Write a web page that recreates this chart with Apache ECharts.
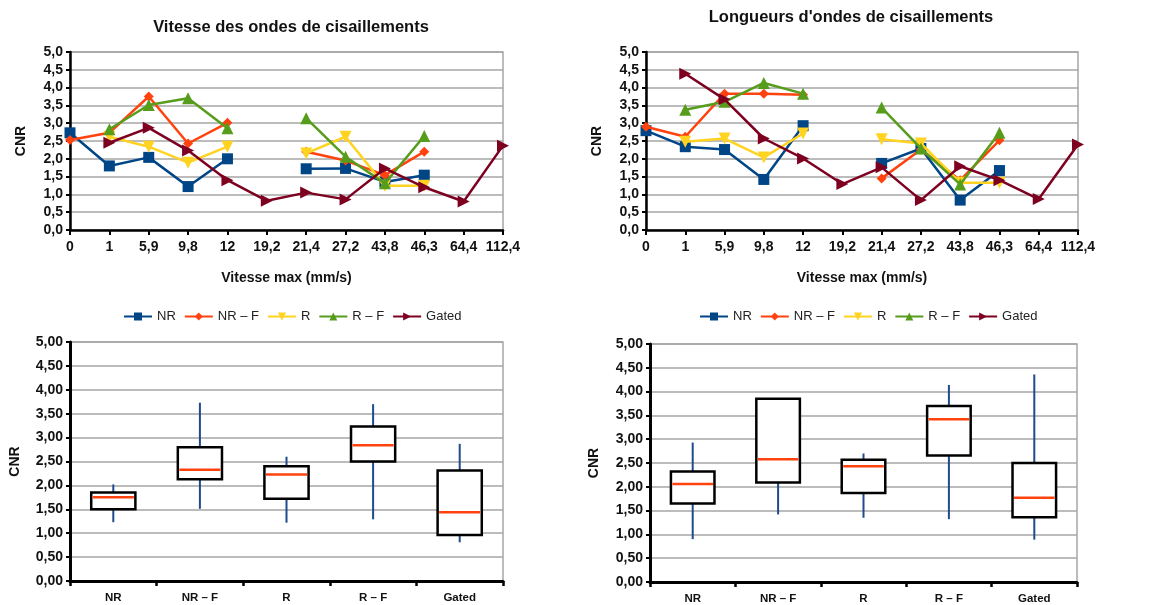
<!DOCTYPE html>
<html><head><meta charset="utf-8">
<script src="https://cdn.jsdelivr.net/npm/echarts@6/dist/echarts.min.js"></script>
<style>html,body{margin:0;padding:0;background:#fff}#c{width:1161px;height:605px}</style>
</head><body><div id="c"></div>
<script>
// ---- data ----
const speedCats = ['0','1','5,9','9,8','12','19,2','21,4','27,2','43,8','46,3','64,4','112,4'];
const seriesNames = ['NR','NR – F','R','R – F','Gated'];
// Vitesse des ondes de cisaillements
const vitNR    = [2.73,1.80,2.04,1.22,2.00,null,1.72,1.73,1.35,1.54,null,null];
const vitNRF   = [2.53,2.73,3.75,2.43,3.01,null,2.20,1.95,1.54,2.20,null,null];
const vitR     = [null,2.62,2.34,1.89,2.34,null,2.15,2.62,1.24,1.24,null,null];
const vitRF    = [null,2.83,3.51,3.70,2.86,null,3.14,2.06,1.31,2.64,null,null];
const vitGated = [null,2.45,2.87,2.23,1.40,0.82,1.05,0.86,1.73,1.20,0.80,2.37];
// Longueurs d'ondes de cisaillements
const lonNR    = [2.79,2.34,2.26,1.42,2.93,null,1.87,2.29,0.84,1.67,null,null];
const lonNRF   = [2.90,2.62,3.83,3.83,3.80,null,1.45,2.26,1.40,2.52,null,null];
const lonR     = [null,2.48,2.57,2.04,2.71,null,2.55,2.43,1.33,1.33,null,null];
const lonRF    = [null,3.38,3.60,4.13,3.83,null,3.44,2.29,1.28,2.73,null,null];
const lonGated = [null,4.39,3.67,2.57,2.01,1.29,1.76,0.84,1.79,1.40,0.87,2.40];
// Box plots: [min, Q1, median, Q3, max]
const boxCats = ['NR','NR – F','R','R – F','Gated'];
const vitBoxNR    = [1.23,1.50,1.75,1.85,2.02];
const vitBoxNRF   = [1.51,2.13,2.33,2.80,3.73];
const vitBoxR     = [1.22,1.72,2.23,2.40,2.60];
const vitBoxRF    = [1.29,2.50,2.84,3.23,3.70];
const vitBoxGated = [0.81,0.96,1.44,2.31,2.87];
const lonBoxNR    = [0.90,1.65,2.06,2.32,2.93];
const lonBoxNRF   = [1.42,2.09,2.58,3.85,3.85];
const lonBoxR     = [1.35,1.87,2.43,2.57,2.70];
const lonBoxRF    = [1.32,2.66,3.42,3.70,4.14];
const lonBoxGated = [0.89,1.36,1.77,2.50,4.36];

// ---- styles ----
const colors = ['#004586','#ff420e','#ffd320','#579d1c','#7e0021'];
const symbols = ['rect','diamond','triangle','triangle','triangle'];
const symRot = [0,0,180,0,-90];
const symSize = [11,10,12,12,12];
const FONT = 'Liberation Sans, Arial, sans-serif';

const chart = echarts.init(document.getElementById('c'));

function lineY(gi, nameGap){
  return {gridIndex: gi, min: 0, max: 5, interval: 0.5, name: 'CNR', nameLocation: 'middle', nameGap: nameGap,
    nameTextStyle: {fontFamily: FONT, fontWeight: 'bold', fontSize: 14, color: '#111'},
    axisLine: {show: true, lineStyle: {color: '#000', width: 2.5}},
    axisTick: {show: true, length: 4, lineStyle: {color: '#000', width: 2}},
    axisLabel: {fontFamily: FONT, fontWeight: 'bold', fontSize: 14, color: '#111', margin: 7,
      formatter: v => v.toFixed(1).replace('.', ',')},
    splitLine: {show: true, lineStyle: {color: '#a6a6a6', width: 1.5}}};
}
function boxY(gi, nameGap){
  const y = lineY(gi, nameGap);
  y.axisLabel = Object.assign({}, y.axisLabel, {formatter: v => v.toFixed(2).replace('.', ',')});
  y.axisLine.lineStyle.width = 3;
  return y;
}
function lineX(gi){
  return {gridIndex: gi, type: 'category', data: speedCats, boundaryGap: false,
    name: 'Vitesse max (mm/s)', nameLocation: 'middle', nameGap: 41,
    nameTextStyle: {fontFamily: FONT, fontWeight: 'bold', fontSize: 14, color: '#111'},
    axisLine: {lineStyle: {color: '#000', width: 2.5}},
    axisTick: {show: true, length: 5, lineStyle: {color: '#000', width: 2}},
    axisLabel: {fontFamily: FONT, fontWeight: 'bold', fontSize: 14, color: '#111', margin: 10, interval: 0},
    splitLine: {show: false}};
}
function boxX(gi){
  return {gridIndex: gi, type: 'category', data: boxCats, boundaryGap: true,
    axisLine: {lineStyle: {color: '#000', width: 3}},
    axisTick: {show: true, length: 5, lineStyle: {color: '#000', width: 2.5}},
    axisLabel: {fontFamily: FONT, fontWeight: 'bold', fontSize: 11.5, color: '#111', margin: 11, interval: 0},
    splitLine: {show: false}};
}
function lineSeries(gi, arrs){
  return arrs.map((d, i) => ({
    name: seriesNames[i], type: 'line', xAxisIndex: gi, yAxisIndex: gi, data: d,
    connectNulls: false, symbol: symbols[i], symbolRotate: symRot[i], symbolSize: symSize[i],
    showAllSymbol: true, itemStyle: {color: colors[i]}, lineStyle: {color: colors[i], width: 2.5},
    z: 3 + i
  }));
}
function boxSeries(gi, stats){
  return {
    type: 'custom', xAxisIndex: gi, yAxisIndex: gi, z: 10,
    data: stats.map((s, i) => [i].concat(s)),
    encode: {x: 0, y: [1,2,3,4,5]},
    renderItem: function(params, api){
      const x = api.value(0);
      const pMin = api.coord([x, api.value(1)]);
      const pQ1 = api.coord([x, api.value(2)]);
      const pMed = api.coord([x, api.value(3)]);
      const pQ3 = api.coord([x, api.value(4)]);
      const pMax = api.coord([x, api.value(5)]);
      const bw = api.size([1, 0])[0] * 0.51;
      const cx = pMed[0];
      return {type: 'group', children: [
        {type: 'line', shape: {x1: cx, y1: pMin[1], x2: cx, y2: pMax[1]}, style: {stroke: '#1f4b8a', lineWidth: 2}},
        {type: 'rect', shape: {x: cx - bw/2, y: pQ3[1], width: bw, height: pQ1[1] - pQ3[1]},
          style: {fill: '#fff', stroke: '#000', lineWidth: 2.5}},
        {type: 'line', shape: {x1: cx - bw/2 + 1.5, y1: pMed[1], x2: cx + bw/2 - 1.5, y2: pMed[1]},
          style: {stroke: '#ff420e', lineWidth: 2.5}}
      ]};
    }
  };
}
const legendCommon = {orient: 'horizontal', itemWidth: 28, itemHeight: 10, itemGap: 8,
  textStyle: {fontFamily: FONT, fontSize: 13, color: '#222'}, data: seriesNames, selectedMode: false};

const gridStyle = {show: true, borderColor: '#a6a6a6', borderWidth: 1.5, containLabel: false};

chart.setOption({
  animation: false,
  backgroundColor: '#fff',
  title: [
    {text: 'Vitesse des ondes de cisaillements', left: 286, textAlign: 'center', top: 14,
      textStyle: {fontFamily: FONT, fontWeight: 'bold', fontSize: 16.5, color: '#111'}},
    {text: "Longueurs d'ondes de cisaillements", left: 846, textAlign: 'center', top: 4,
      textStyle: {fontFamily: FONT, fontWeight: 'bold', fontSize: 16.5, color: '#111'}}
  ],
  legend: [
    Object.assign({left: 118, top: 305}, legendCommon),
    Object.assign({left: 694, top: 305}, legendCommon)
  ],
  grid: [
    Object.assign({left: 70, top: 52, width: 433, height: 178}, gridStyle),
    Object.assign({left: 646, top: 52, width: 432, height: 178}, gridStyle),
    Object.assign({left: 70, top: 342, width: 433, height: 239}, gridStyle),
    Object.assign({left: 650, top: 344, width: 427, height: 241}, gridStyle)
  ],
  xAxis: [lineX(0), lineX(1), boxX(2), boxX(3)],
  yAxis: [lineY(0, 42), lineY(1, 42), boxY(2, 48), boxY(3, 49)],
  series: [].concat(
    lineSeries(0, [vitNR, vitNRF, vitR, vitRF, vitGated]),
    lineSeries(1, [lonNR, lonNRF, lonR, lonRF, lonGated]),
    [boxSeries(2, [vitBoxNR, vitBoxNRF, vitBoxR, vitBoxRF, vitBoxGated]),
     boxSeries(3, [lonBoxNR, lonBoxNRF, lonBoxR, lonBoxRF, lonBoxGated])]
  )
});
</script></body></html>
